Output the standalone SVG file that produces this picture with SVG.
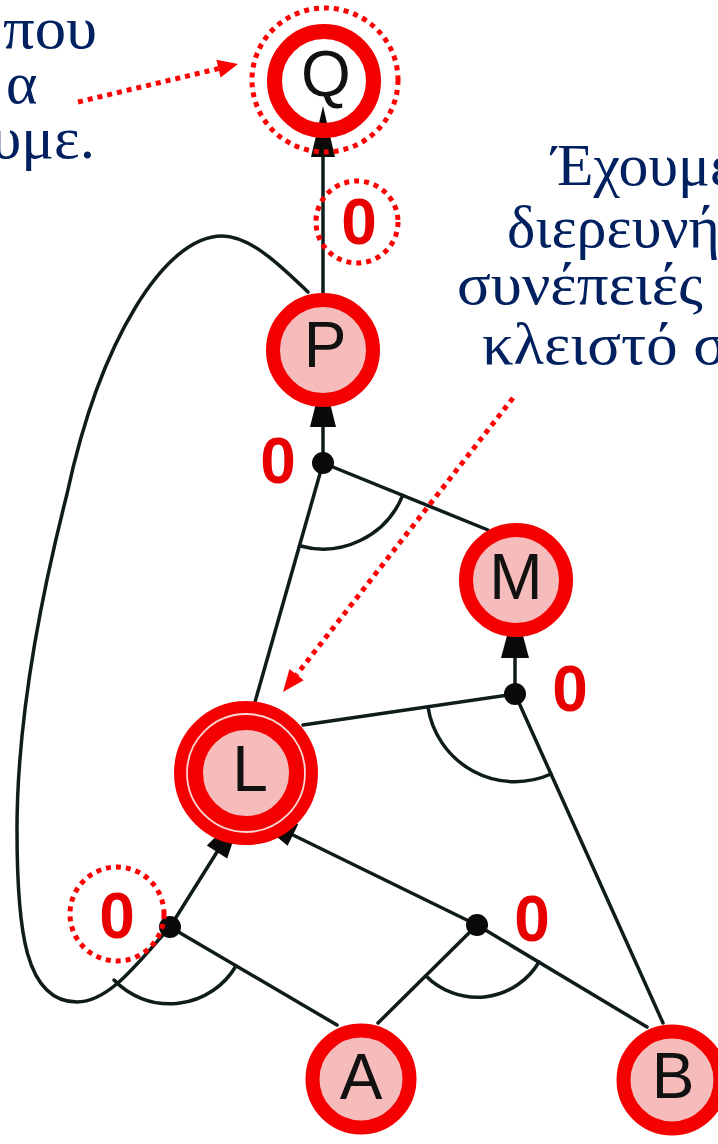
<svg xmlns="http://www.w3.org/2000/svg" width="718" height="1144" viewBox="0 0 718 1144">
<style>
.edge{fill:none;stroke:#0f1c1c;stroke-width:3.5;stroke-linecap:round}
.head{fill:#0a0a0a}
.dot{fill:#0a0a0a}
.ring{fill:#f6bcbc;stroke:#f50000;stroke-width:14}
.lbl{font-family:"Liberation Sans",Arial,sans-serif;font-size:64px;fill:#111;text-anchor:middle}
.zero{font-family:"Liberation Sans",Arial,sans-serif;font-size:64px;font-weight:bold;fill:#e80000;text-anchor:middle}
.note{font-family:"Liberation Serif","Times New Roman",serif;font-size:60px;fill:#002060}
.hl{fill:none;stroke:#ff0000;stroke-width:5;stroke-dasharray:5 5}
.hlhead{fill:#ff0000}
</style>
<rect width="718" height="1144" fill="#ffffff"/>
<g id="connectors">
  <path class="edge" d="M308,292 C280,265 250,236 222,236 C165,236 100,340 67,494 C40,600 17,720 17,830 C17,930 25,1002 77,1002 C110,1002 140,960 170,927"/>
  <line class="edge" x1="323" y1="330" x2="323" y2="157"/>
  <polygon class="head" points="323,106 311,157 335,157"/>
  <line class="edge" x1="323" y1="463" x2="323" y2="427"/>
  <polygon class="head" points="323,375 310,427 336,427"/>
  <line class="edge" x1="323" y1="463" x2="255" y2="702"/>
  <line class="edge" x1="323" y1="463" x2="488" y2="530"/>
  <path class="edge" d="M299.5,545.7 A86,86 0 0 0 402.7,495.4"/>
  <line class="edge" x1="515" y1="694" x2="515" y2="658"/>
  <polygon class="head" points="515,606 501,658 529,658"/>
  <line class="edge" x1="515" y1="694" x2="303" y2="725"/>
  <line class="edge" x1="515" y1="694" x2="663" y2="1023"/>
  <path class="edge" d="M428,707 A88,88 0 0 0 551,774"/>
  <line class="edge" x1="170" y1="927" x2="217" y2="852"/>
  <polygon class="head" points="243.5,809.6 227.2,858.4 206.8,845.6"/>
  <line class="edge" x1="170" y1="927" x2="337" y2="1025"/>
  <path class="edge" d="M114,980 A77,77 0 0 0 236,966"/>
  <line class="edge" x1="477" y1="925" x2="293" y2="835"/>
  <polygon class="head" points="248,813 298.2,824.2 287.6,845.8"/>
  <line class="edge" x1="477" y1="925" x2="378" y2="1023"/>
  <line class="edge" x1="477" y1="925" x2="647" y2="1027"/>
  <path class="edge" d="M426,976 A72,72 0 0 0 539,962"/>
  <circle class="dot" cx="323" cy="463" r="11"/>
  <circle class="dot" cx="515" cy="694" r="11"/>
  <circle class="dot" cx="170" cy="927" r="11"/>
  <circle class="dot" cx="477" cy="925" r="11"/>
</g>
<g id="node-Q">
  <circle cx="324" cy="81" r="49.5" fill="none" stroke="#f50000" stroke-width="15"/>
  <text class="lbl" x="326" y="96">Q</text>
</g>
<g id="node-P">
  <circle class="ring" cx="323" cy="350" r="50"/>
  <text class="lbl" x="325" y="367">P</text>
</g>
<g id="node-M">
  <circle class="ring" cx="516" cy="580" r="50"/>
  <text class="lbl" x="516" y="599">M</text>
</g>
<g id="node-L">
  <circle cx="246" cy="773" r="57.5" fill="#f6bcbc" stroke="#f50000" stroke-width="29"/>
  <circle cx="246" cy="773" r="59" fill="none" stroke="#ffd6d6" stroke-width="1.8"/>
  <text class="lbl" x="250" y="791">L</text>
</g>
<g id="node-A">
  <circle class="ring" cx="361" cy="1079" r="48.5" stroke-width="13"/>
  <text class="lbl" x="361" y="1099">A</text>
</g>
<g id="node-B">
  <circle class="ring" cx="672" cy="1080" r="48.5" stroke-width="13"/>
  <text class="lbl" x="673" y="1098">B</text>
</g>
<g id="labels">
  <text class="zero" x="359" y="244">0</text>
  <text class="zero" x="278" y="483">0</text>
  <text class="zero" x="570" y="711">0</text>
  <text class="zero" x="117" y="938">0</text>
  <text class="zero" x="532" y="941">0</text>
</g>
<g id="highlights">
  <ellipse class="hl" cx="325" cy="80" rx="73" ry="72"/>
  <circle class="hl" cx="357" cy="222" r="41"/>
  <circle class="hl" cx="117" cy="914" r="47"/>
  <line class="hl" x1="78" y1="102" x2="218.5" y2="68.6"/>
  <polygon class="hlhead" points="238,64 220.6,77.4 216.4,59.8"/>
  <line class="hl" x1="513" y1="398" x2="296.6" y2="674.7"/>
  <polygon class="hlhead" points="283,692 303.7,680.3 289.5,669.1"/>
</g>
<g id="notes">
  <text class="note" x="3" y="48" textLength="94" lengthAdjust="spacingAndGlyphs">που</text>
  <text class="note" x="6" y="103">α</text>
  <text class="note" x="-9" y="158" textLength="104" lengthAdjust="spacingAndGlyphs">υμε.</text>
  <text class="note" x="552" y="185" textLength="183" lengthAdjust="spacingAndGlyphs">Έχουμε</text>
  <text class="note" x="507" y="247" textLength="213" lengthAdjust="spacingAndGlyphs">διερευνή</text>
  <text class="note" x="457" y="304" textLength="246" lengthAdjust="spacingAndGlyphs">συνέπειές</text>
  <text class="note" x="482" y="364" textLength="245" lengthAdjust="spacingAndGlyphs">κλειστό σ</text>
</g>
</svg>
